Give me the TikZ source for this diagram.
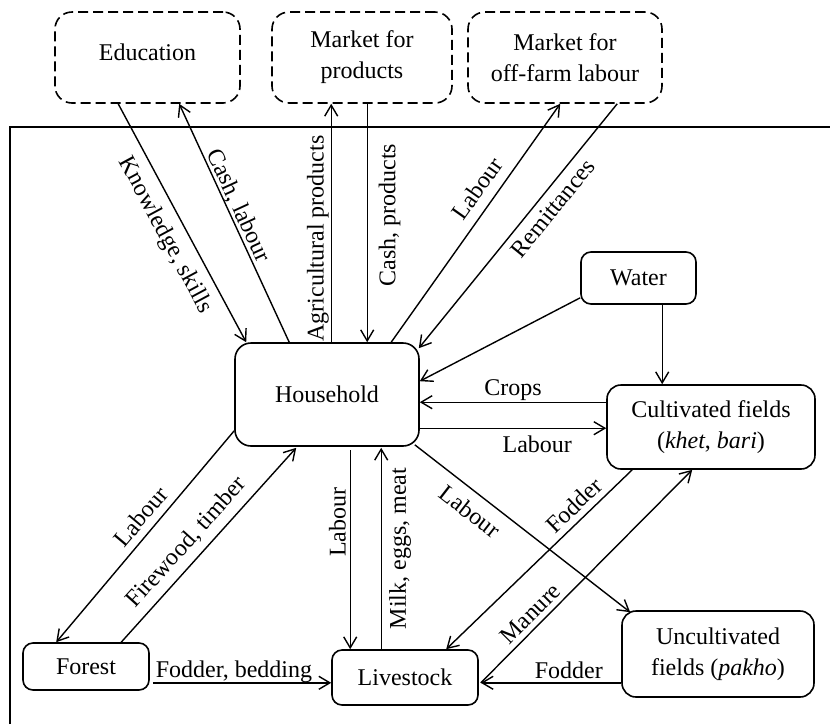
\documentclass[tikz,border=0pt]{standalone}
\usepackage{fontspec}
\setmainfont{Liberation Serif}
\usetikzlibrary{arrows.meta}
\begin{document}
\begin{tikzpicture}[x=1pt,y=-1pt,
  font=\fontsize{24}{31}\selectfont,
  base/.style={draw, line width=1.6pt, inner sep=0pt, align=center},
  solidbox/.style={base, rounded corners=10pt},
  dashbox/.style={base, dash pattern=on 10pt off 5pt, rounded corners=17pt},
  flow/.style={line width=1.4pt, -{Straight Barb[length=11pt,width=13pt]}},
  flowback/.style={line width=1.4pt, {Straight Barb[length=11pt,width=13pt]}-},
  lbl/.style={sloped, inner sep=0pt, text height=16pt, text depth=5pt}]
\useasboundingbox (0,0) rectangle (830,724);
% frame
\draw[line width=1.5pt] (10,724) -- (10,127) -- (830,127);
% boxes
\node[dashbox, minimum width=185pt, minimum height=91pt, text height=16pt, text depth=11pt] (edu) at (147.5,57.5) {Education};
\node[dashbox, minimum width=180pt, minimum height=91pt] (mp) at (362,57.5) {Market for\\products};
\node[dashbox, minimum width=194pt, minimum height=91pt] (of) at (565,57.5) {Market for\\off-farm labour};
\node[solidbox, rounded corners=16pt, minimum width=184pt, minimum height=103pt] (hh) at (327,394.5) {Household};
\node[solidbox, minimum width=115pt, minimum height=52pt] (wa) at (638.5,278) {Water};
\node[solidbox, rounded corners=14pt, minimum width=208pt, minimum height=84pt] (cf) at (711,427) {Cultivated fields\\(\textit{khet}, \textit{bari})};
\node[solidbox, rounded corners=14pt, minimum width=192pt, minimum height=86pt] (uf) at (718,654) {Uncultivated\\fields (\textit{pakho})};
\node[solidbox, minimum width=146pt, minimum height=55pt] (ls) at (405,677.5) {Livestock};
\node[solidbox, minimum width=126pt, minimum height=47pt] (fo) at (86,666.5) {Forest};
% connectors
\draw[flow] ([xshift=64pt]edu.south west) -- node[lbl, pos=.51, below=10pt] {Knowledge, skills} ([xshift=12pt]hh.north west);
\draw[flowback] ([xshift=125pt]edu.south west) -- node[lbl, pos=.448, above=-1.5pt] {Cash, labour} ([xshift=55pt]hh.north west);
\draw[flow] ([xshift=97pt]hh.north west) -- node[lbl, pos=.435, above=2pt] {Agricultural products} ([xshift=60pt]mp.south west);
\draw[flowback] ([xshift=133pt]hh.north west) -- node[lbl, pos=.533, below=11.5pt] {Cash, products} ([xshift=96pt]mp.south west);
\draw[flow] ([xshift=157pt]hh.north west) -- node[lbl, pos=.60, above=5pt] {Labour} ([xshift=93pt]of.south west);
\draw[flowback] ([xshift=-1pt,yshift=-6pt]hh.north east) -- node[lbl, pos=.614, below=7pt] {Remittances} ([xshift=150pt]of.south west);
\draw[flow] ([yshift=7pt]wa.south west) -- ([yshift=-39pt]hh.north east);
\draw[flow] ([xshift=82pt]wa.south west) -- ([xshift=56pt]cf.north west);
\draw[flowback] ([yshift=-60pt]hh.north east) -- node[lbl, pos=.5, above=1pt] {Crops} ([yshift=-18pt]cf.north west);
\draw[flow] ([yshift=-86pt]hh.north east) -- node[lbl, pos=.63, below=8pt] {Labour} ([yshift=-44pt]cf.north west);
\draw[flow] ([xshift=-5pt,yshift=2pt]hh.south east) -- node[lbl, pos=.31, below=10pt] {Labour} ([xshift=9pt,yshift=-2pt]uf.north west);
\draw[flowback] ([xshift=115pt]ls.north west) -- node[lbl, pos=.742, above=1pt] {Fodder} ([xshift=26pt]cf.south west);
\draw[flow] ([xshift=2pt,yshift=23pt]ls.south east) -- node[lbl, pos=.28, above=0pt] {Manure} ([xshift=86pt]cf.south west);
\draw[flowback] ([xshift=2pt,yshift=23pt]ls.south east) -- node[lbl, pos=.627, above=-1pt] {Fodder} ([yshift=15pt]uf.south west);
\draw[flow] ([xshift=3pt,yshift=8pt]fo.south east) -- node[lbl, pos=.455, above=0pt] {Fodder, bedding} ([yshift=23pt]ls.south west);
\draw[flowback] ([xshift=34pt]fo.north west) -- node[lbl, pos=.545, above=2.5pt] {Labour} ([yshift=16pt]hh.south west);
\draw[flow] ([xshift=99pt]fo.north west) -- node[lbl, pos=.45, above=6pt] {Firewood, timber} ([xshift=62pt,yshift=-1pt]hh.south west);
\draw[flowback] ([xshift=19pt]ls.north west) -- node[lbl, pos=.637, above=-1pt] {Labour} ([xshift=116pt,yshift=-3pt]hh.south west);
\draw[flow] ([xshift=50pt]ls.north west) -- node[lbl, pos=.5, below=8pt] {Milk, eggs, meat} ([xshift=147pt,yshift=-1pt]hh.south west);
\end{tikzpicture}
\end{document}
